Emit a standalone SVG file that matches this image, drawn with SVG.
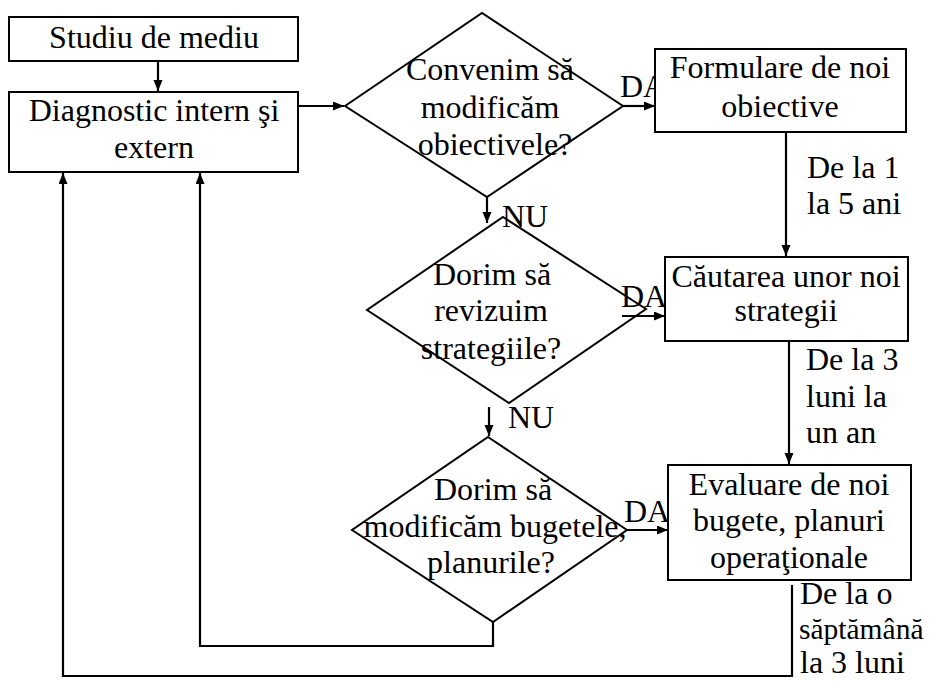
<svg xmlns="http://www.w3.org/2000/svg" width="929" height="681" viewBox="0 0 929 681">
  <style>
    .box { fill: #ffffff; stroke: #000000; stroke-width: 2; }
    .dia { fill: none; stroke: #000000; stroke-width: 2; }
    .line { fill: none; stroke: #000000; stroke-width: 2.2; }
    text { font-family: "Liberation Serif", "Times New Roman", serif; font-size: 32px; fill: #000000; }
    .c { text-anchor: middle; }
    .narrow { font-size: 29.5px; }
  </style>
  <defs>
    <marker id="arrow" markerUnits="userSpaceOnUse" markerWidth="12" markerHeight="10" refX="11" refY="4.5" orient="auto">
      <path d="M0,0 L11,4.5 L0,9 Z" fill="#000000"/>
    </marker>
  </defs>

  <!-- connectors -->
  <g id="connectors">
    <line class="line" x1="158" y1="61" x2="158" y2="91" marker-end="url(#arrow)"/>
    <line class="line" x1="298" y1="106" x2="344" y2="106" marker-end="url(#arrow)"/>
    <line class="line" x1="623" y1="106" x2="655" y2="106" marker-end="url(#arrow)"/>
    <line class="line" x1="487" y1="197" x2="487" y2="223" marker-end="url(#arrow)"/>
    <line class="line" x1="786" y1="132" x2="786" y2="256" marker-end="url(#arrow)"/>
    <line class="line" x1="622" y1="316" x2="665" y2="316" marker-end="url(#arrow)"/>
    <line class="line" x1="489" y1="407" x2="489" y2="436" marker-end="url(#arrow)"/>
    <line class="line" x1="789" y1="341" x2="789" y2="464" marker-end="url(#arrow)"/>
    <line class="line" x1="627" y1="530" x2="668" y2="530" marker-end="url(#arrow)"/>
    <!-- return from budget decision -->
    <polyline class="line" points="493,622 493,646 200,646 200,173" marker-end="url(#arrow)"/>
    <!-- return from operational plans -->
    <polyline class="line" points="792,585 792,676 63,676 63,173" marker-end="url(#arrow)"/>
  </g>

  <g id="studiu">
    <rect class="box" x="9" y="17" width="289" height="44"/>
    <text class="c" x="154" y="48">Studiu de mediu</text>
  </g>

  <g id="diagnostic">
    <rect class="box" x="9" y="92" width="289" height="80"/>
    <text class="c" x="154" y="121">Diagnostic intern şi</text>
    <text class="c" x="154" y="158">extern</text>
  </g>

  <g id="decizie-obiective">
    <polygon class="dia" points="345,106 482,13 623,106 487,197"/>
    <text class="c" x="490" y="80">Convenim să</text>
    <text class="c" x="490" y="118">modificăm</text>
    <text class="c" x="495" y="155">obiectivele?</text>
    <text x="620" y="97">DA</text>
    <text x="502" y="227">NU</text>
  </g>

  <g id="formulare">
    <rect class="box" x="655" y="49" width="251" height="83"/>
    <text class="c" x="780" y="78">Formulare de noi</text>
    <text class="c" x="780" y="117">obiective</text>
  </g>
  <g id="termen-obiective">
    <text x="807" y="178">De la 1</text>
    <text x="807" y="214">la 5 ani</text>
  </g>

  <g id="decizie-strategii">
    <polygon class="dia" points="503,217 646,309 509,403 367,310"/>
    <text class="c" x="492" y="285">Dorim să</text>
    <text class="c" x="491" y="321">revizuim</text>
    <text class="c" x="491" y="359">strategiile?</text>
    <text x="621" y="307">DA</text>
    <text x="508" y="428">NU</text>
  </g>

  <g id="cautarea">
    <rect class="box" x="665" y="257" width="243" height="84"/>
    <text class="c" x="786" y="287">Căutarea unor noi</text>
    <text class="c" x="786" y="321">strategii</text>
  </g>
  <g id="termen-strategii">
    <text x="806" y="370">De la 3</text>
    <text x="806" y="407">luni la</text>
    <text x="806" y="443">un an</text>
  </g>

  <g id="decizie-bugete">
    <polygon class="dia" points="488,437 627,530 493,622 352,530"/>
    <text class="c" x="493" y="500">Dorim să</text>
    <text class="c" x="495" y="537">modificăm bugetele,</text>
    <text class="c" x="491" y="573">planurile?</text>
    <text x="624" y="522">DA</text>
  </g>

  <g id="evaluare">
    <rect class="box" x="668" y="465" width="243" height="115"/>
    <text class="c" x="789" y="495">Evaluare de noi</text>
    <text class="c" x="789" y="531">bugete, planuri</text>
    <text class="c" x="789" y="568">operaţionale</text>
  </g>
  <g id="termen-bugete">
    <text x="800" y="604">De la o</text>
    <text class="narrow" x="799" y="639">săptămână</text>
    <text x="800" y="673">la 3 luni</text>
  </g>
</svg>
